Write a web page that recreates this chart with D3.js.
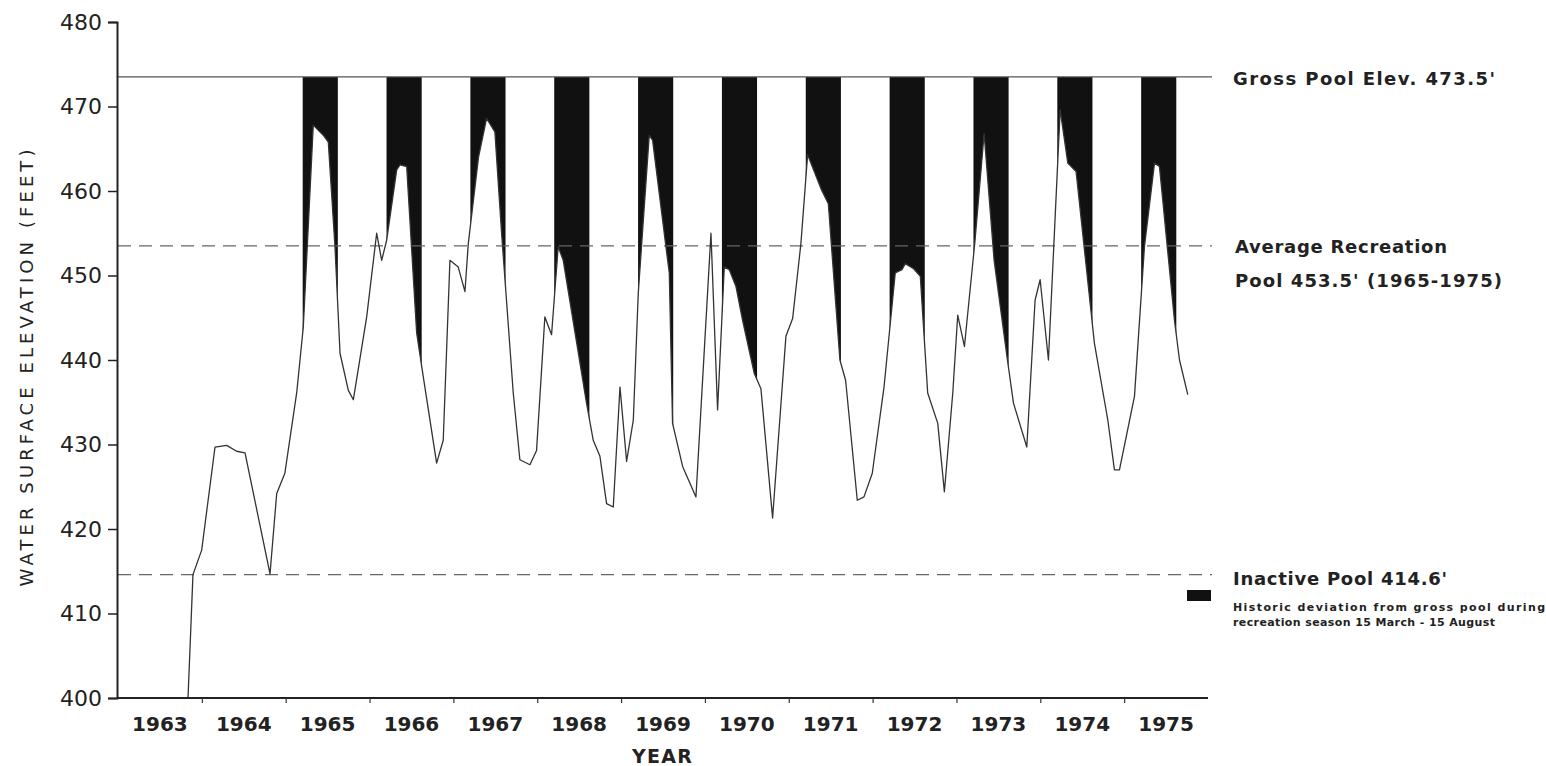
<!DOCTYPE html>
<html>
<head>
<meta charset="utf-8">
<script src="https://cdn.jsdelivr.net/npm/d3@7"></script>
<style>
  body { margin: 0; background: #fff; }
  svg { display: block; }
  text { font-family: "DejaVu Sans", sans-serif; fill: #222; }
</style>
</head>
<body>
<script>
// water surface elevation readings, decimal year + feet
var levelYears = [
  1963.835, 1963.894, 1963.998, 1964.157, 1964.296, 1964.415, 1964.515, 1964.813, 1964.893, 1964.990,
  1965.131, 1965.210, 1965.329, 1965.448, 1965.508, 1965.588, 1965.648, 1965.747, 1965.807, 1965.966,
  1966.085, 1966.145, 1966.205, 1966.324, 1966.363, 1966.443, 1966.562, 1966.641, 1966.800, 1966.879,
  1966.959, 1967.058, 1967.138, 1967.178, 1967.300, 1967.396, 1967.495, 1967.575, 1967.714, 1967.793,
  1967.913, 1967.992, 1968.091, 1968.171, 1968.250, 1968.310, 1968.588, 1968.668, 1968.748, 1968.827,
  1968.907, 1968.987, 1969.066, 1969.146, 1969.205, 1969.336, 1969.376, 1969.535, 1969.575, 1969.614,
  1969.734, 1969.893, 1970.072, 1970.151, 1970.231, 1970.290, 1970.370, 1970.449, 1970.589, 1970.668,
  1970.807, 1970.966, 1971.046, 1971.145, 1971.225, 1971.392, 1971.472, 1971.610, 1971.678, 1971.817,
  1971.897, 1971.996, 1972.136, 1972.270, 1972.350, 1972.390, 1972.489, 1972.569, 1972.657, 1972.777,
  1972.856, 1972.956, 1973.015, 1973.095, 1973.220, 1973.330, 1973.449, 1973.608, 1973.680, 1973.839,
  1973.938, 1973.998, 1974.097, 1974.237, 1974.328, 1974.427, 1974.645, 1974.805, 1974.884, 1974.944,
  1975.123, 1975.242, 1975.362, 1975.421, 1975.600, 1975.660, 1975.759
];
var levelFeet = [
  400.0, 414.6, 417.5, 429.7, 429.9, 429.2, 429.0, 414.7, 424.2, 426.6,
  436.1, 443.9, 467.8, 466.6, 465.8, 453.4, 440.8, 436.4, 435.3, 445.1,
  455.0, 451.8, 454.2, 462.5, 463.1, 462.9, 443.2, 438.0, 427.8, 430.5,
  451.8, 451.0, 448.1, 453.8, 464.0, 468.6, 467.0, 455.0, 436.1, 428.2,
  427.6, 429.3, 445.1, 443.0, 453.4, 451.8, 434.9, 430.5, 428.6, 423.0,
  422.6, 436.8, 428.0, 432.9, 447.9, 466.6, 466.0, 453.4, 450.3, 432.5,
  427.4, 423.8, 455.0, 434.1, 451.0, 450.7, 448.7, 444.7, 438.4, 436.6,
  421.3, 442.8, 444.9, 453.8, 464.3, 460.1, 458.5, 440.0, 437.6, 423.4,
  423.8, 426.6, 436.8, 450.3, 450.7, 451.4, 450.8, 449.9, 436.1, 432.5,
  424.4, 436.1, 445.3, 441.6, 454.0, 466.8, 451.8, 440.0, 434.9, 429.7,
  447.1, 449.5, 440.0, 469.6, 463.3, 462.3, 442.0, 432.9, 427.0, 427.0,
  435.7, 453.4, 463.3, 462.9, 444.7, 440.0, 435.9
];

var yearLabels = ["1963","1964","1965","1966","1967","1968","1969","1970","1971","1972","1973","1974","1975"];
var yTicks = [400, 410, 420, 430, 440, 450, 460, 470, 480];
var seasonYears = [1965,1966,1967,1968,1969,1970,1971,1972,1973,1974,1975];
var seasonStart = 74 / 365;   // 15 March
var seasonEnd = 227 / 365;    // 15 August
var grossPool = 473.5;
var avgRecPool = 453.5;
var inactivePool = 414.6;

var W = 1546, H = 766;
var svg = d3.select("body").append("svg").attr("width", W).attr("height", H);

var x = d3.scaleLinear().domain([1963, 1976]).range([118, 1208]);
var y = d3.scaleLinear().domain([400, 480]).range([698, 22]);

var pts = levelYears.map(function(t, i) { return { t: t, e: levelFeet[i] }; });

// clip for the recreation seasons
var clip = svg.append("defs").append("clipPath").attr("id", "seasons");
clip.selectAll("rect").data(seasonYears).enter().append("rect")
  .attr("x", function(d) { return x(d + seasonStart); })
  .attr("width", function(d) { return x(d + seasonEnd) - x(d + seasonStart); })
  .attr("y", 0).attr("height", H);

var area = d3.area()
  .x(function(d) { return x(d.t); })
  .y0(y(grossPool))
  .y1(function(d) { return y(d.e); });

svg.append("path").datum(pts)
  .attr("d", area)
  .attr("clip-path", "url(#seasons)")
  .attr("fill", "#111");

// reference pool lines
svg.append("line").attr("x1", 118).attr("x2", 1212)
  .attr("y1", y(grossPool)).attr("y2", y(grossPool))
  .attr("stroke", "#555").attr("stroke-width", 1.3);
[avgRecPool, inactivePool].forEach(function(v) {
  svg.append("line").attr("x1", 118).attr("x2", 1212)
    .attr("y1", y(v)).attr("y2", y(v))
    .attr("stroke", "#666").attr("stroke-width", 1.3)
    .attr("stroke-dasharray", "13,8");
});

var line = d3.line().x(function(d) { return x(d.t); }).y(function(d) { return y(d.e); });
svg.append("path").datum(pts)
  .attr("d", line)
  .attr("fill", "none")
  .attr("stroke", "#333")
  .attr("stroke-width", 1.3)
  .attr("stroke-linejoin", "round");

// axes
var yAxis = d3.axisLeft(y).tickValues(yTicks).tickSize(9).tickPadding(6);
var gy = svg.append("g").attr("transform", "translate(117,0)").call(yAxis);
gy.select(".domain").attr("stroke", "#222").attr("stroke-width", 2);
gy.selectAll(".tick line").attr("stroke", "#222").attr("stroke-width", 1.5);
gy.selectAll(".tick text").style("font-size", "22px").style("font-family", "DejaVu Sans").attr("fill", "#222");

var xAxis = d3.axisBottom(x).tickValues(d3.range(1964, 1976)).tickSize(5).tickFormat("");
var gx = svg.append("g").attr("transform", "translate(0,698)").call(xAxis);
gx.select(".domain").attr("stroke", "#222").attr("stroke-width", 2).attr("d", "M117,0H1208");
gx.selectAll(".tick line").attr("stroke", "#333").attr("stroke-width", 1.2);

svg.append("g").selectAll("text").data(yearLabels).enter().append("text")
  .attr("x", function(d) { return x(+d + 0.5); })
  .attr("y", 731)
  .attr("text-anchor", "middle")
  .style("font-size", "20px").style("font-weight", "bold")
  .text(function(d) { return d; });

svg.append("text").attr("x", 662).attr("y", 763).attr("text-anchor", "middle")
  .style("font-size", "19px").style("font-weight", "bold")
  .attr("textLength", 60)
  .text("YEAR");

svg.append("text")
  .attr("transform", "translate(33,368) rotate(-90)")
  .attr("text-anchor", "middle")
  .attr("textLength", 437).attr("lengthAdjust", "spacing")
  .style("font-size", "18px")
  .text("WATER SURFACE ELEVATION (FEET)");

// right side labels
var lab = svg.append("g").style("font-weight", "bold").style("font-size", "18px");
lab.append("text").attr("x", 1233).attr("y", 85).attr("textLength", 262).text("Gross Pool Elev. 473.5'");
lab.append("text").attr("x", 1235).attr("y", 253).attr("textLength", 212).text("Average Recreation");
lab.append("text").attr("x", 1235).attr("y", 287).attr("textLength", 267).text("Pool 453.5' (1965-1975)");
lab.append("text").attr("x", 1233).attr("y", 585).attr("textLength", 214).text("Inactive Pool 414.6'");

// legend swatch
svg.append("rect").attr("x", 1187).attr("y", 590).attr("width", 24).attr("height", 11).attr("fill", "#111");
var small = svg.append("g").style("font-size", "11px").style("font-weight", "bold");
small.append("text").attr("x", 1233).attr("y", 611).attr("textLength", 312).text("Historic deviation from gross pool during");
small.append("text").attr("x", 1233).attr("y", 626).attr("textLength", 262).text("recreation season 15 March - 15 August");
</script>
</body>
</html>
